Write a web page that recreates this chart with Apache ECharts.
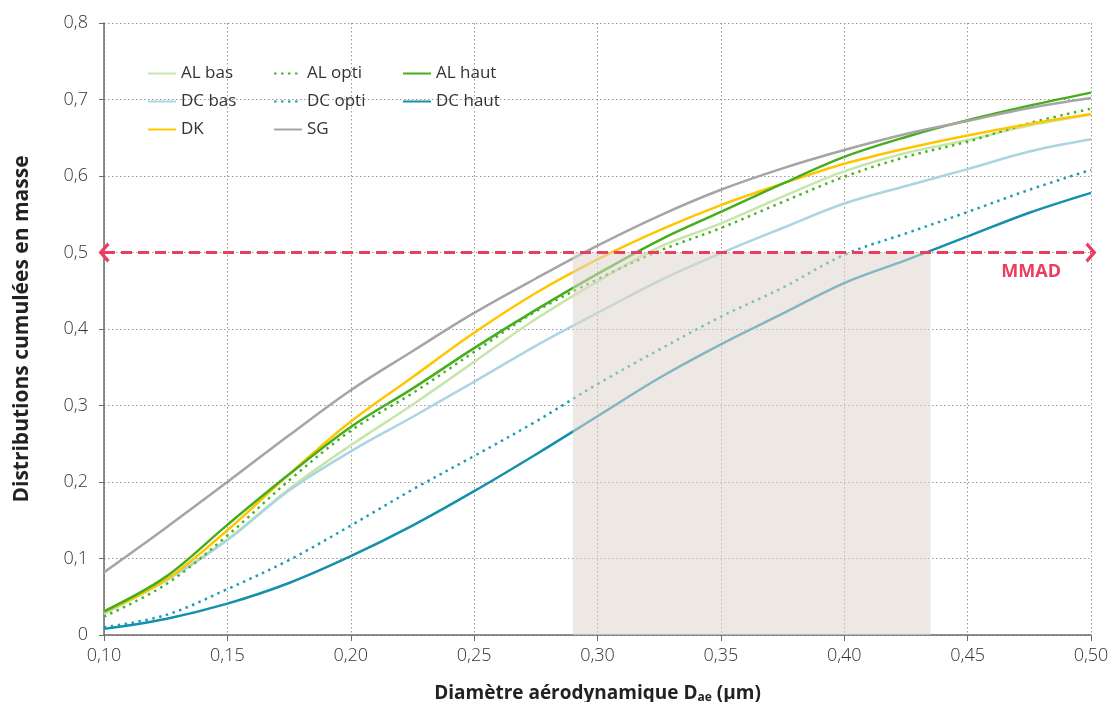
<!DOCTYPE html>
<html>
<head>
<meta charset="utf-8">
<script src="https://cdn.jsdelivr.net/npm/echarts@6/dist/echarts.min.js"></script>
<style>
  html, body { margin: 0; padding: 0; background: #fff; }
  #chart { width: 1113px; height: 702px; }
</style>
</head>
<body>
<div id="chart"></div>
<script>
// diamètre aérodynamique (µm)
var diametres = [0.10, 0.125, 0.15, 0.175, 0.20, 0.225, 0.25, 0.275, 0.30, 0.325, 0.35, 0.375, 0.40, 0.425, 0.45, 0.475, 0.50];

// distributions cumulées
var alBas  = [0.028, 0.072, 0.125, 0.191, 0.248, 0.301, 0.357, 0.413, 0.462, 0.507, 0.538, 0.573, 0.606, 0.630, 0.647, 0.666, 0.680];
var alOpti = [0.024, 0.066, 0.130, 0.202, 0.267, 0.316, 0.370, 0.423, 0.465, 0.502, 0.532, 0.566, 0.599, 0.625, 0.645, 0.669, 0.688];
var alHaut = [0.031, 0.076, 0.144, 0.210, 0.272, 0.322, 0.375, 0.425, 0.472, 0.516, 0.553, 0.590, 0.625, 0.651, 0.673, 0.692, 0.709];
var dcBas  = [0.028, 0.071, 0.124, 0.189, 0.240, 0.285, 0.331, 0.378, 0.421, 0.463, 0.499, 0.532, 0.564, 0.587, 0.609, 0.632, 0.648];
var dcOpti = [0.010, 0.026, 0.060, 0.098, 0.143, 0.190, 0.234, 0.279, 0.328, 0.373, 0.416, 0.454, 0.497, 0.525, 0.553, 0.582, 0.608];
var dcHaut = [0.008, 0.021, 0.041, 0.068, 0.103, 0.143, 0.188, 0.236, 0.286, 0.336, 0.380, 0.420, 0.460, 0.490, 0.521, 0.552, 0.578];
var dk     = [0.030, 0.072, 0.137, 0.210, 0.279, 0.337, 0.395, 0.447, 0.491, 0.529, 0.562, 0.590, 0.616, 0.636, 0.653, 0.668, 0.681];
var sg     = [0.082, 0.140, 0.200, 0.261, 0.320, 0.371, 0.421, 0.466, 0.509, 0.548, 0.582, 0.610, 0.634, 0.655, 0.672, 0.689, 0.702];

// MMAD : seuil 50 % et plage des diamètres médians
var mmadNiveau = 0.5;
var mmadPlage = [0.29, 0.435];

var police = '"Open Sans", Lato, sans-serif';
var rouge = '#ea3d5f';

function paires(valeurs) {
    return diametres.map(function (d, i) { return [d, valeurs[i]]; });
}

function courbe(nom, valeurs, couleur, pointille) {
    return {
        name: nom,
        type: 'line',
        data: paires(valeurs),
        smooth: 0.35,
        showSymbol: false,
        symbol: 'circle',
        z: 2,
        lineStyle: { color: couleur, width: 2.5, type: pointille ? [2.5, 4.5] : 'solid' },
        itemStyle: { color: couleur }
    };
}

function virgule(v, n) {
    return v.toFixed(n).replace('.', ',');
}

var chevron = 'path://M0,8 L8,0 L16,8 L14,10 L8,4 L2,10 Z';

var legendeBase = {
    orient: 'vertical',
    top: 60,
    itemWidth: 28,
    itemHeight: 16,
    itemGap: 11,
    itemStyle: { opacity: 0 },
    textStyle: { fontFamily: police, fontSize: 17, color: '#333' }
};

var chart = echarts.init(document.getElementById('chart'));

chart.setOption({
    animation: false,
    backgroundColor: '#fff',
    grid: { left: 104, right: 22, top: 23, bottom: 67, outerBoundsMode: 'none', containLabel: false },
    legend: [
        Object.assign({}, legendeBase, { left: 142, data: ['AL bas', 'DC bas', 'DK'] }),
        Object.assign({}, legendeBase, { left: 268, data: ['AL opti', 'DC opti', 'SG'] }),
        Object.assign({}, legendeBase, { left: 397, data: ['AL haut', 'DC haut'] })
    ],
    xAxis: {
        type: 'value',
        min: 0.10,
        max: 0.50,
        interval: 0.05,
        name: '{b|Diamètre aérodynamique D}{s|ae}{b| (µm)}',
        nameLocation: 'middle',
        nameGap: 49,
        nameTextStyle: {
            rich: {
                b: { fontFamily: police, fontWeight: 'bold', fontSize: 19, color: '#222' },
                s: { fontFamily: police, fontWeight: 'bold', fontSize: 12, color: '#222', padding: [8, 0, 0, 0] }
            }
        },
        axisLine: { lineStyle: { color: '#6b6b6b', width: 1.5 } },
        axisTick: { show: true, length: 6, lineStyle: { color: '#6b6b6b' } },
        axisLabel: {
            fontFamily: police, fontWeight: 300, fontSize: 18, color: '#333', margin: 12,
            formatter: function (v) { return virgule(v, 2); }
        },
        splitLine: { show: true, lineStyle: { color: '#999', type: [1.5, 2.5], width: 1 } }
    },
    yAxis: {
        type: 'value',
        min: 0,
        max: 0.8,
        interval: 0.1,
        name: 'Distributions cumulées en masse',
        nameLocation: 'middle',
        nameGap: 71,
        nameTextStyle: { fontFamily: police, fontWeight: 'bold', fontSize: 21, color: '#222' },
        axisLine: { show: true, lineStyle: { color: '#6b6b6b', width: 1.5 } },
        axisTick: { show: true, length: 5, lineStyle: { color: '#6b6b6b' } },
        axisLabel: {
            fontFamily: police, fontWeight: 300, fontSize: 18, color: '#333', margin: 16,
            formatter: function (v) { return v === 0 ? '0' : virgule(v, 1); }
        },
        splitLine: { show: true, lineStyle: { color: '#999', type: [1.5, 2.5], width: 1 } }
    },
    series: [
        courbe('AL bas', alBas, '#c8e6ab', false),
        courbe('DC bas', dcBas, '#abd5e2', false),
        courbe('AL opti', alOpti, '#4bb322', true),
        courbe('DC opti', dcOpti, '#1c9cb6', true),
        courbe('DC haut', dcHaut, '#1590ac', false),
        courbe('DK', dk, '#ffc600', false),
        courbe('AL haut', alHaut, '#45ae1c', false),
        courbe('SG', sg, '#a5a5a5', false),
        {
            name: 'MMAD',
            type: 'line',
            data: [],
            z: 4,
            markArea: {
                silent: true,
                z: 3,
                itemStyle: { color: 'rgba(222,213,204,0.55)' },
                data: [[{ coord: [mmadPlage[0], 0] }, { coord: [mmadPlage[1], mmadNiveau] }]]
            },
            markLine: {
                silent: true,
                z: 6,
                symbol: [chevron, chevron],
                symbolSize: [20, 11],
                lineStyle: { color: rouge, width: 3, type: [11, 6] },
                label: {
                    show: true,
                    position: 'insideEndBottom',
                    formatter: 'MMAD',
                    distance: [30, 10],
                    color: rouge,
                    fontFamily: police,
                    fontWeight: 'bold',
                    fontSize: 18
                },
                data: [[{ coord: [diametres[0], mmadNiveau] }, { coord: [diametres[diametres.length - 1], mmadNiveau] }]]
            }
        }
    ]
});
</script>
</body>
</html>
